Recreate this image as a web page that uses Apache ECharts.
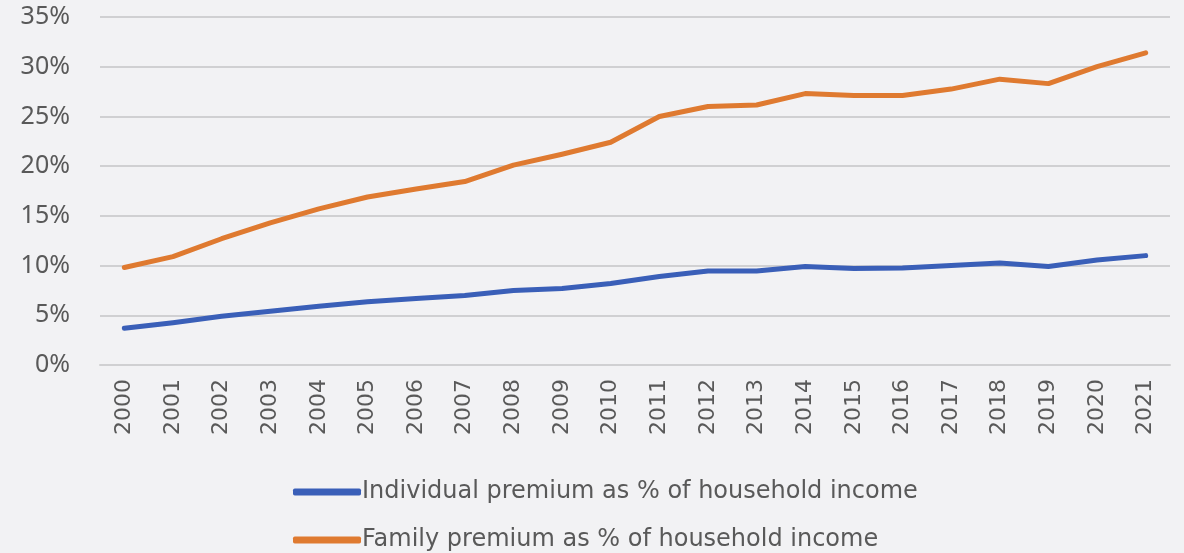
<!DOCTYPE html>
<html><head><meta charset="utf-8">
<script src="https://cdn.jsdelivr.net/npm/echarts@6/dist/echarts.min.js"></script>
<style>html,body{margin:0;padding:0;background:#f2f2f4;}#c{width:1184px;height:553px;}</style>
</head><body><div id="c"></div>
<script>
const years = ['2000','2001','2002','2003','2004','2005','2006','2007','2008','2009','2010','2011','2012','2013','2014','2015','2016','2017','2018','2019','2020','2021'];
const individual = [3.7,4.25,4.9,5.4,5.9,6.35,6.7,7.0,7.5,7.7,8.2,8.9,9.45,9.45,9.9,9.7,9.75,10.0,10.25,9.9,10.55,11.0];
const family = [9.8,10.9,12.7,14.3,15.7,16.9,17.7,18.45,20.1,21.2,22.4,25.0,26.0,26.15,27.3,27.1,27.1,27.75,28.75,28.3,30.0,31.4];
const yTicks = {min:0, max:35, interval:5};
const seriesNames = ['Individual premium as % of household income','Family premium as % of household income'];

const chart = echarts.init(document.getElementById('c'));
const font = 'DejaVu Sans';
const legendBase = {
  orient: 'horizontal', left: 288,
  itemWidth: 68, itemHeight: 7, itemGap: 0,
  icon: 'roundRect',
  textStyle: {fontFamily: font, fontSize: 24, color: '#595959', padding: [0,0,0,-4]}
};
chart.setOption({
  backgroundColor: '#f2f2f4',
  animation: false,
  grid: {left: 100, right: 14, top: 17, bottom: 188},
  legend: [
    Object.assign({}, legendBase, {top: 475, data: [seriesNames[0]]}),
    Object.assign({}, legendBase, {top: 523, data: [seriesNames[1]]})
  ],
  xAxis: {
    type: 'category', data: years, boundaryGap: true,
    axisLine: {show: true, lineStyle: {color: '#d0d0d2', width: 2}},
    axisTick: {show: false},
    axisLabel: {rotate: 90, fontFamily: font, fontSize: 22, color: '#595959', margin: 14, interval: 0}
  },
  yAxis: {
    type: 'value', min: yTicks.min, max: yTicks.max, interval: yTicks.interval,
    axisLine: {show: false}, axisTick: {show: false},
    splitLine: {lineStyle: {color: '#d0d0d2', width: 2}},
    axisLabel: {formatter: '{value}%', fontFamily: 'Noto Sans', fontSize: 25, color: '#595959', margin: 30}
  },
  series: [
    {name: seriesNames[0], type: 'line', data: individual, symbol: 'none',
     lineStyle: {color: '#3a5fb8', width: 5, cap: 'round', join: 'round'}, itemStyle: {color: '#3a5fb8'}},
    {name: seriesNames[1], type: 'line', data: family, symbol: 'none',
     lineStyle: {color: '#df7a30', width: 5, cap: 'round', join: 'round'}, itemStyle: {color: '#df7a30'}}
  ]
});
</script></body></html>
